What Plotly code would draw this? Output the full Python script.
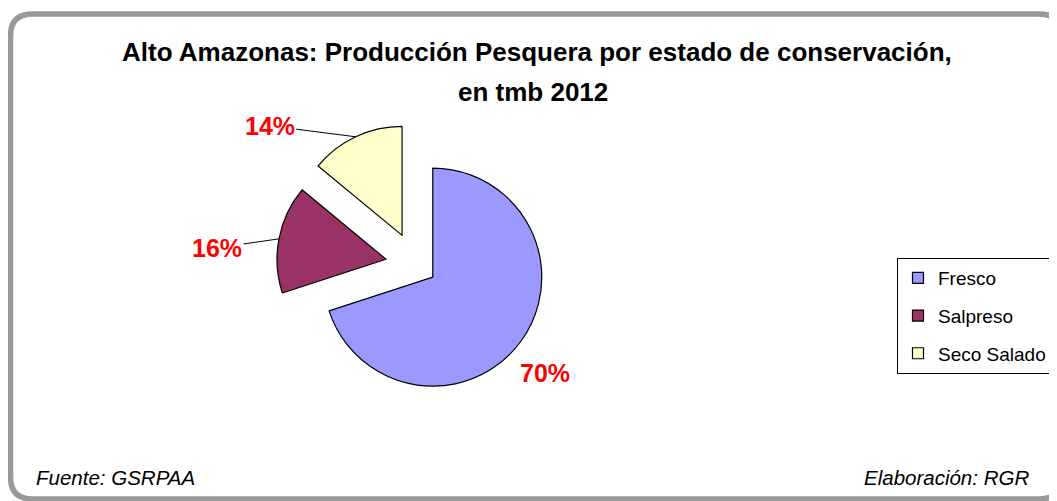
import math
import plotly.graph_objects as go

# ---------------- data ----------------
categories = ["Fresco", "Salpreso", "Seco Salado"]
values = [70, 16, 14]
colors = ["#9999FF", "#993366", "#FFFFCC"]
pulls = [0.19, 0.28, 0.30]

title_line1 = "Alto Amazonas: Producción Pesquera por estado de conservación,"
title_line2 = "en tmb 2012"
source_text = "Fuente: GSRPAA"
credit_text = "Elaboración: RGR"

# ---------------- layout geometry ----------------
W, H = 1057, 501
OFF = 8                              # page body margin
CX, CY, R = 416, 265, 109            # pie centre (page px) and radius (px)


def fx(px):
    return (px - OFF) / W


def fy(py):
    return 1 - (py - OFF) / H


maxp = max(pulls)
half = R * (1 + maxp)
dom_x = [fx(CX - half), fx(CX + half)]
dom_y = [fy(CY + half), fy(CY - half)]

fig = go.Figure()

fig.add_trace(go.Pie(
    labels=categories,
    values=values,
    sort=False,
    direction="clockwise",
    rotation=0,
    pull=pulls,
    marker=dict(colors=colors, line=dict(color="black", width=1.2)),
    textinfo="none",
    hoverinfo="label+percent",
    showlegend=False,
    domain=dict(x=dom_x, y=dom_y),
))

# legend entries (one per category)
for cat, col in zip(categories, colors):
    fig.add_trace(go.Scatter(
        x=[None], y=[None], mode="markers", name=cat, legendgroup=cat,
        marker=dict(symbol="square", size=11, color=col,
                    line=dict(color="black", width=1.2)),
        showlegend=True,
    ))

# percentage labels computed from the data
total = sum(values)
label_offsets = {  # (ax, ay) pixel offsets of label text from leader tip
    1: (-62, 9),
    2: (-86, -11),
}
lab_font = dict(family="Liberation Sans", size=25, color="#FF0000")
annotations = []
cum = 0.0
for i, v in enumerate(values):
    frac_mid = (cum + v / 2) / total
    cum += v
    th = 2 * math.pi * frac_mid
    dx, dy = math.sin(th), -math.cos(th)
    pct = f"{round(100 * v / total)}%"
    vx, vy = CX + pulls[i] * R * dx, CY + pulls[i] * R * dy
    if i in label_offsets:
        tipx, tipy = vx + R * dx, vy + R * dy
        ax, ay = label_offsets[i]
        annotations.append(dict(
            x=fx(tipx), y=fy(tipy), xref="paper", yref="paper",
            xanchor="center", yanchor="middle",
            text=f"<b>{pct}</b>", showarrow=True, arrowhead=0,
            arrowwidth=1, arrowcolor="black", ax=ax, ay=ay, standoff=0,
            font=lab_font,
        ))
    else:
        lx, ly = vx + 1.33 * R * dx, vy + 1.33 * R * dy
        annotations.append(dict(
            x=fx(lx), y=fy(ly), xref="paper", yref="paper",
            xanchor="center", yanchor="middle", xshift=-5, yshift=-11,
            text=f"<b>{pct}</b>", showarrow=False, font=lab_font,
        ))

title_font = dict(family="Liberation Sans", size=26, color="black")
foot_font = dict(family="Liberation Sans", size=20.5, color="black")
annotations += [
    dict(x=fx(537), y=fy(52), xref="paper", yref="paper", text=f"<b>{title_line1}</b>",
         xanchor="center", yanchor="middle", showarrow=False, font=title_font),
    dict(x=fx(533), y=fy(92), xref="paper", yref="paper", text=f"<b>{title_line2}</b>",
         xanchor="center", yanchor="middle", showarrow=False, font=title_font),
    dict(x=fx(34), y=fy(477), xref="paper", yref="paper", text=f"<i>{source_text}</i>",
         xanchor="left", yanchor="middle", showarrow=False, font=foot_font),
    dict(x=fx(1031), y=fy(477), xref="paper", yref="paper", text=f"<i>{credit_text}</i>",
         xanchor="right", yanchor="middle", showarrow=False, font=foot_font),
]

# rounded outer frame
x0, x1, y0, y1, rr = 10.5, 1061, 14, 499, 22
path = (
    f"M {fx(x0 + rr)} {fy(y0)} L {fx(x1 - rr)} {fy(y0)} "
    f"Q {fx(x1)} {fy(y0)} {fx(x1)} {fy(y0 + rr)} "
    f"L {fx(x1)} {fy(y1 - rr)} Q {fx(x1)} {fy(y1)} {fx(x1 - rr)} {fy(y1)} "
    f"L {fx(x0 + rr)} {fy(y1)} Q {fx(x0)} {fy(y1)} {fx(x0)} {fy(y1 - rr)} "
    f"L {fx(x0)} {fy(y0 + rr)} Q {fx(x0)} {fy(y0)} {fx(x0 + rr)} {fy(y0)} Z"
)

fig.update_layout(
    width=W, height=H,
    margin=dict(l=0, r=0, t=0, b=0, autoexpand=False),
    paper_bgcolor="white", plot_bgcolor="white",
    xaxis=dict(visible=False), yaxis=dict(visible=False),
    shapes=[dict(type="path", path=path, xref="paper", yref="paper",
                 line=dict(color="#999999", width=5.5), layer="below")],
    annotations=annotations,
    legend=dict(
        x=fx(1052), y=fy(258), xanchor="right", yanchor="top",
        bordercolor="black", borderwidth=1, bgcolor="white",
        font=dict(family="Liberation Sans", size=19, color="black"),
        tracegroupgap=10, itemwidth=30,
    ),
    font=dict(family="Liberation Sans"),
)

fig.write_html("out.html")
